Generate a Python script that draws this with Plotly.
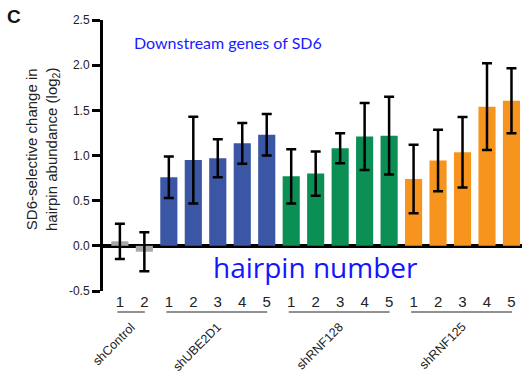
import plotly.graph_objects as go

groups = ["shControl", "shUBE2D1", "shRNF128", "shRNF125"]
hairpins = [["1", "2"], ["1", "2", "3", "4", "5"], ["1", "2", "3", "4", "5"], ["1", "2", "3", "4", "5"]]
values = [
    [0.05, -0.065],
    [0.76, 0.95, 0.97, 1.135, 1.23],
    [0.77, 0.80, 1.08, 1.21, 1.22],
    [0.74, 0.945, 1.035, 1.54, 1.605],
]
errors = [
    [0.195, 0.215],
    [0.23, 0.48, 0.21, 0.225, 0.23],
    [0.30, 0.245, 0.165, 0.37, 0.43],
    [0.38, 0.34, 0.39, 0.48, 0.36],
]
colors = ["#a8a8a8", "#3a56a5", "#0b8f55", "#f7941d"]
y_ticks = [-0.5, 0.0, 0.5, 1.0, 1.5, 2.0, 2.5]
y_ticktext = ["-0.5", "0.0", "0.5", "1.0", "1.5", "2.0", "2.5"]

W, H = 522, 371
ML, MR, MT, MB = 103, 0, 20, 80
PW, PH = W - ML - MR, H - MT - MB


def px_to_paper_x(px):
    return (px - ML) / PW


def px_to_paper_y(py):
    return (H - MB - py) / PH


fig = go.Figure()
pos = 0
tickvals, ticktext = [], []
for g, labels, vals, errs, col in zip(groups, hairpins, values, errors, colors):
    xs = list(range(pos, pos + len(vals)))
    fig.add_trace(go.Bar(
        x=xs, y=vals, width=0.7, marker=dict(color=col, line=dict(width=0)),
        error_y=dict(type="data", array=errs, color="black", thickness=2.5, width=5),
        name=g, showlegend=False,
    ))
    tickvals += xs
    ticktext += labels
    # group underline
    fig.add_shape(type="line", xref="x", yref="paper",
                  x0=xs[0] - 0.1, x1=xs[-1] + 0.02,
                  y0=px_to_paper_y(312), y1=px_to_paper_y(312),
                  line=dict(color="#222222", width=1))
    center = (xs[0] + xs[-1]) / 2
    fig.add_annotation(x=center, xref="x", xshift=9, y=px_to_paper_y(317), yref="paper",
                       text=g, textangle=-45, showarrow=False,
                       xanchor="right", yanchor="top",
                       font=dict(family="Liberation Sans, Arial", size=12.5, color="#222222"))
    pos += len(vals)

fig.update_layout(
    width=W, height=H,
    margin=dict(l=ML, r=MR, t=MT, b=MB),
    plot_bgcolor="white", paper_bgcolor="white",
    bargap=0.3,
    xaxis=dict(range=[-0.69, 16.43], tickvals=tickvals, ticktext=ticktext,
               showline=False, ticks="", showgrid=False, zeroline=False,
               tickfont=dict(family="Liberation Sans, Arial", size=15, color="#222222")),
    yaxis=dict(range=[-0.5, 2.5], tickvals=y_ticks, ticktext=y_ticktext,
               showline=True, linecolor="black", linewidth=3,
               ticks="outside", ticklen=8, tickwidth=2.5, tickcolor="black",
               showgrid=False, zeroline=True, zerolinecolor="black", zerolinewidth=3.5,
               layer="above traces",
               tickfont=dict(family="Liberation Sans, Arial", size=12, color="#222222")),
)

fig.add_annotation(x=px_to_paper_x(42), y=px_to_paper_y(150), xref="paper", yref="paper",
                   text="SD6-selective change in<br>hairpin abundance (log<sub>2</sub>)",
                   textangle=-90, showarrow=False, xanchor="center", yanchor="middle",
                   font=dict(family="Liberation Sans, Arial", size=15, color="#222222"))
fig.add_annotation(x=px_to_paper_x(228), y=px_to_paper_y(43), xref="paper", yref="paper",
                   text="Downstream genes of SD6", showarrow=False,
                   xanchor="center", yanchor="middle",
                   font=dict(family="Lato", size=16, color="#1a1aff"))
fig.add_annotation(x=px_to_paper_x(315), y=px_to_paper_y(267), xref="paper", yref="paper",
                   text="hairpin number", showarrow=False,
                   xanchor="center", yanchor="middle",
                   font=dict(family="Open Sans", size=28, color="#1414ff"))
fig.add_annotation(x=px_to_paper_x(14), y=px_to_paper_y(17), xref="paper", yref="paper",
                   text="<b>C</b>", showarrow=False, xanchor="center", yanchor="middle",
                   font=dict(family="Liberation Sans, Arial", size=19, color="#111111"))

fig.write_html("out.html")
